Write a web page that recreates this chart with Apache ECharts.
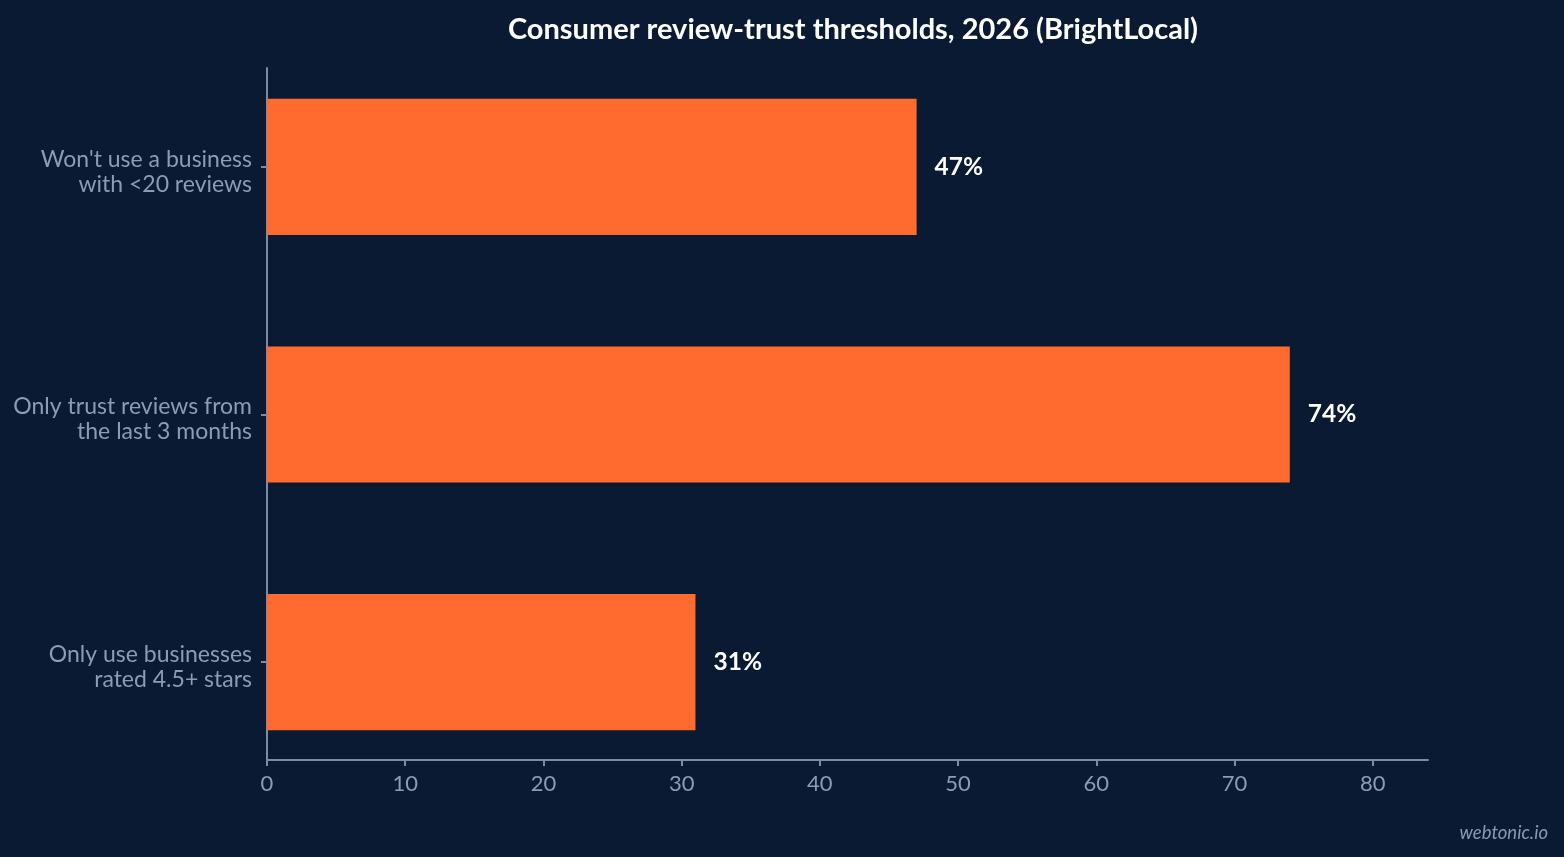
<!DOCTYPE html>
<html>
<head>
<meta charset="utf-8">
<script src="https://cdn.jsdelivr.net/npm/echarts@6/dist/echarts.min.js"></script>
<style>
  html, body { margin: 0; padding: 0; background: #0b1a33; }
  #chart { width: 1564px; height: 857px; }
</style>
</head>
<body>
<div id="chart"></div>
<script>
var categories = [
  "Won't use a business\nwith <20 reviews",
  "Only trust reviews from\nthe last 3 months",
  "Only use businesses\nrated 4.5+ stars"
];
var shares = [47, 74, 31];
var xTicks = { min: 0, max: 84, step: 10 };

var axisColor = '#7d8ca6';
var labelColor = '#8d9cb6';
var font = 'Lato, "Noto Sans", sans-serif';

var dom = document.getElementById('chart');
var myChart = echarts.init(dom);

var option = {
  backgroundColor: '#0b1a33',
  animation: false,
  title: {
    text: 'Consumer review-trust thresholds, 2026 (BrightLocal)',
    left: 848,
    textAlign: 'center',
    top: 10,
    textStyle: { color: '#ffffff', fontFamily: font, fontWeight: 'bold', fontSize: 29 }
  },
  graphic: [{
    type: 'text',
    right: 16,
    bottom: 14,
    style: { text: 'webtonic.io', fill: '#8a99b3', font: 'italic 18.5px Lato, sans-serif' }
  }],
  // grid 0 holds the bars, grid 1 only draws the frame lines and x ticks
  grid: [
    { left: 267, right: 136, top: 43, bottom: 71 },
    { left: 267, right: 136, top: 68, bottom: 97 }
  ],
  xAxis: [
    {
      gridIndex: 0, type: 'value', min: xTicks.min, max: xTicks.max, interval: xTicks.step,
      axisLine: { show: false }, axisTick: { show: false }, axisLabel: { show: false },
      splitLine: { show: false }
    },
    {
      gridIndex: 1, type: 'value', min: xTicks.min, max: xTicks.max, interval: xTicks.step,
      axisLine: { show: true, lineStyle: { color: axisColor, width: 2 } },
      axisTick: { show: true, length: 6, lineStyle: { color: axisColor, width: 2 } },
      axisLabel: { color: labelColor, fontFamily: font, fontSize: 22, margin: 13, showMaxLabel: false },
      splitLine: { show: false }
    }
  ],
  yAxis: [
    {
      gridIndex: 0, type: 'category', data: categories, inverse: true,
      axisLine: { show: false },
      axisTick: { show: true, alignWithLabel: true, length: 6, lineStyle: { color: axisColor, width: 2 } },
      axisLabel: {
        color: labelColor, fontFamily: font, fontSize: 23, lineHeight: 25,
        margin: 15, align: 'right', verticalAlign: 'top',
        formatter: function (v) { return v; },
        padding: [-20, 0, 0, 0]
      }
    },
    {
      gridIndex: 1, type: 'category', data: ['', '', ''], inverse: true,
      axisLine: { show: true, lineStyle: { color: axisColor, width: 2 } },
      axisTick: { show: false }, axisLabel: { show: false }
    }
  ],
  series: [{
    type: 'bar',
    xAxisIndex: 0,
    yAxisIndex: 0,
    data: shares,
    barWidth: '55%',
    itemStyle: { color: '#ff6b2f' },
    label: {
      show: true,
      position: 'right',
      distance: 18,
      formatter: '{c}%',
      color: '#ffffff',
      fontFamily: font,
      fontWeight: 'bold',
      fontSize: 24.5,
      padding: [3, 0, 0, 0]
    }
  }]
};

myChart.setOption(option);
</script>
</body>
</html>
